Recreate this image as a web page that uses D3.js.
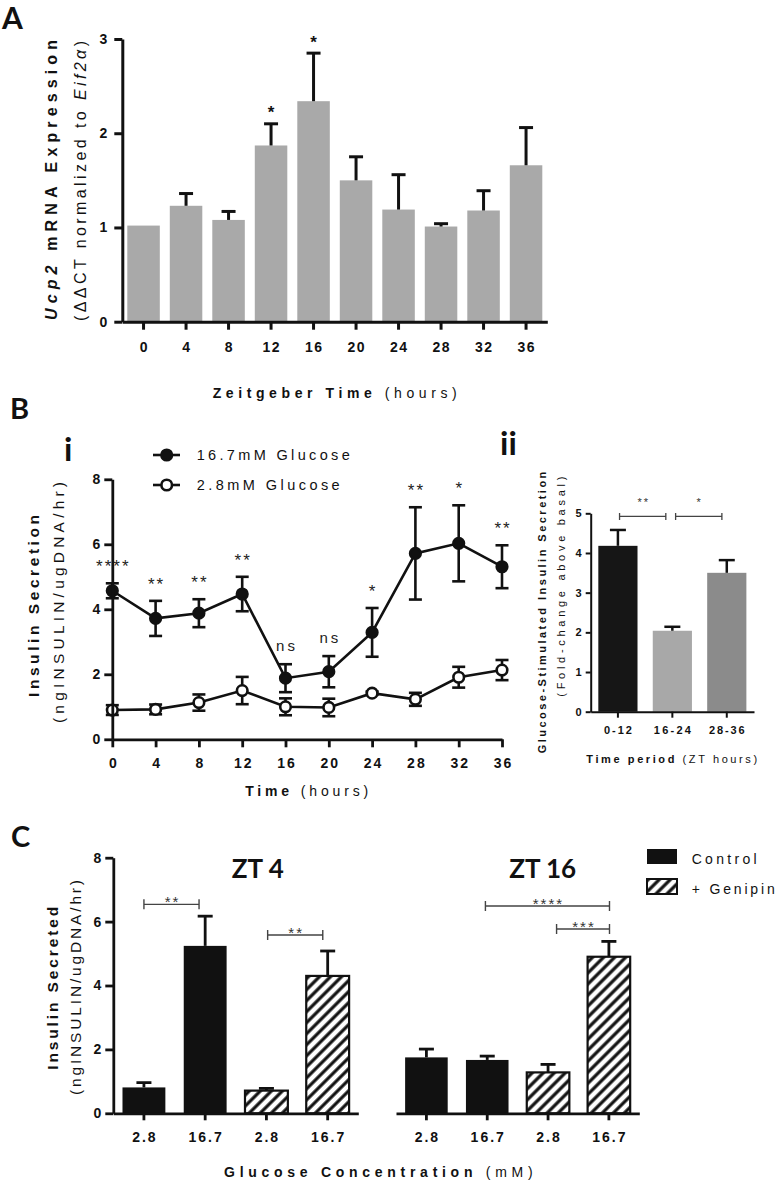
<!DOCTYPE html>
<html><head><meta charset="utf-8">
<script src="https://cdn.jsdelivr.net/npm/d3@7"></script>
<style>body{margin:0;background:#fff} svg{display:block}</style>
</head><body><svg id="c" width="778" height="1189"></svg>
<script>
// ---------- Panel A data ----------
const aTimes = ["0","4","8","12","16","20","24","28","32","36"];
const aMean  = [1.02,1.23,1.08,1.87,2.34,1.50,1.19,1.01,1.18,1.66];
const aErr   = [0,0.13,0.09,0.23,0.51,0.25,0.37,0.03,0.21,0.40];
const aSig   = ["","","","*","*","","","","",""];
const aYTicks = [0,1,2,3];

// ---------- Panel B i data ----------
const bTimes   = [0,4,8,12,16,20,24,28,32,36];
const bHigh    = [4.57,3.72,3.88,4.47,1.88,2.08,3.29,5.72,6.03,5.31];
const bHighErr = [0.23,0.54,0.43,0.53,0.43,0.48,0.75,1.42,1.17,0.66];
const bLow     = [0.90,0.92,1.13,1.50,1.00,0.98,1.42,1.23,1.91,2.13];
const bLowErr  = [0.15,0.15,0.25,0.42,0.26,0.27,0.05,0.20,0.32,0.31];
const bSig     = ["****","**","**","**","ns","ns","*","**","*","**"];
const bYTicks  = [0,2,4,6,8];
const bXTicks  = [0,4,8,12,16,20,24,28,32,36];
const bSeriesNames = ["16.7mM Glucose","2.8mM Glucose"];

// ---------- Panel B ii data ----------
const periods  = ["0-12","16-24","28-36"];
const gsisMean = [4.18,2.04,3.50];
const gsisErr  = [0.40,0.10,0.32];
const gsisYTicks = [0,1,2,3,4,5];
const gsisBrackets = [[0.03,0.88,"**",4.92],[1.06,1.91,"*",4.92]];

// ---------- Panel C data ----------
const cConc   = ["2.8","16.7","2.8","16.7"];
const cTreat  = ["Control","Control","+ Genipin","+ Genipin"];
const zt4Mean = [0.81,5.24,0.71,4.30];
const zt4Err  = [0.15,0.93,0.07,0.78];
const zt16Mean= [1.75,1.67,1.28,4.90];
const zt16Err = [0.26,0.12,0.25,0.48];
const zt4Brackets  = [[0,0.9,"**",6.54],[2.02,2.92,"**",5.58]];
const zt16Brackets = [[0.97,3.01,"****",6.49],[2.14,3.01,"***",5.77]];
const cYTicks = [0,2,4,6,8];
const cLegend = ["Control","+ Genipin"];

// ---------- styles ----------
const F = "'Liberation Sans', Arial, sans-serif";
const LATO = "Lato, 'Open Sans', sans-serif";
const INK = "#111";
const gsisColors = ["#161616","#a8a8a8","#8b8b8b"];
const intFmt = d3.format("d");

const svg = d3.select("#c");

function txt(parent, x, y, parts, o = {}) {
  const anchor = o.anchor || "middle";
  const t = parent.append("text")
    .attr("transform", `translate(${x},${y})` + (o.rot ? ` rotate(${o.rot})` : ""))
    .attr("text-anchor", anchor)
    .style("font-family", o.family || F)
    .style("font-size", (o.size || 14) + "px")
    .style("font-weight", o.weight || "normal")
    .style("fill", o.fill || INK);
  (typeof parts === "string" ? [[parts, {}]] : parts).forEach(([s, st]) => {
    const ts = t.append("tspan").text(s);
    if (st.w) ts.style("font-weight", st.w);
    if (st.i) ts.style("font-style", "italic");
  });
  let ls = 0;
  if (o.span) {
    const n = t.text().length;
    const w = t.node().getComputedTextLength();
    ls = (o.span - w) / Math.max(1, n - 1);
  } else if (o.ls) ls = o.ls;
  if (ls) {
    t.style("letter-spacing", ls + "px");
    if (anchor === "middle") t.attr("dx", ls / 2);
    if (anchor === "end") t.attr("dx", ls);
  }
  return t;
}

function styleAxis(g, sw, size, ls, weight) {
  g.select(".domain").attr("stroke", INK).attr("stroke-width", sw);
  g.selectAll(".tick line").attr("stroke", INK).attr("stroke-width", sw);
  g.selectAll(".tick text").style("font-family", F).style("font-size", size + "px")
    .style("font-weight", weight || "bold").style("fill", INK)
    .style("letter-spacing", (ls || 0) + "px");
  g.attr("font-family", null).attr("font-size", null);
}

function draw() {
  const defs = svg.append("defs");
  const pat = defs.append("pattern").attr("id", "hatch").attr("patternUnits", "userSpaceOnUse")
    .attr("width", 7.8).attr("height", 7.8).attr("patternTransform", "rotate(45)");
  pat.append("rect").attr("width", 7.8).attr("height", 7.8).attr("fill", "#fff");
  pat.append("line").attr("x1", 3.9).attr("y1", -1).attr("x2", 3.9).attr("y2", 9)
    .attr("stroke", INK).attr("stroke-width", 3.2);

  // ================= Panel A =================
  const gA = svg.append("g");
  const ax = d3.scaleBand().domain(aTimes).range([122.3, 547.3]).paddingInner(0.235).paddingOuter(0.1175);
  const ay = d3.scaleLinear().domain([0, 3]).range([321.7, 39]);
  const acx = i => ax(aTimes[i]) + ax.bandwidth() / 2;

  gA.selectAll("rect.bar").data(aMean).join("rect").attr("class", "bar")
    .attr("x", (d, i) => ax(aTimes[i])).attr("y", d => ay(d))
    .attr("width", ax.bandwidth()).attr("height", d => ay(0) - ay(d))
    .attr("fill", "#a9a9a9");
  const aE = gA.selectAll("g.err").data(aMean.map((m, i) => ({m, e: aErr[i], i})).filter(d => d.e > 0))
    .join("g").attr("class", "err");
  aE.append("line").attr("x1", d => acx(d.i)).attr("x2", d => acx(d.i))
    .attr("y1", d => ay(d.m)).attr("y2", d => ay(d.m + d.e)).attr("stroke", INK).attr("stroke-width", 3);
  aE.append("line").attr("x1", d => acx(d.i) - 7).attr("x2", d => acx(d.i) + 7)
    .attr("y1", d => ay(d.m + d.e)).attr("y2", d => ay(d.m + d.e)).attr("stroke", INK).attr("stroke-width", 3);
  aSig.forEach((s, i) => { if (s) txt(gA, acx(i), ay(aMean[i] + aErr[i]) - 5.5, s, {size: 17, weight: "bold"}); });

  const aYAxis = gA.append("g").attr("transform", "translate(122.3,0)")
    .call(d3.axisLeft(ay).tickValues(aYTicks).tickFormat(intFmt).tickSize(8).tickPadding(7).tickSizeOuter(0));
  styleAxis(aYAxis, 3, 14);
  const aXAxis = gA.append("g").attr("transform", `translate(0,${ay(0)})`)
    .call(d3.axisBottom(ax).tickSize(8).tickSizeOuter(0));
  styleAxis(aXAxis, 3, 14, 1.5);
  aXAxis.selectAll(".tick text").attr("y", 30.3).attr("dy", 0).attr("dx", 0.75);

  txt(gA, 2, 29, "A", {anchor: "start", family: LATO, size: 30, weight: "bold"});
  txt(gA, 57, 180, [["Ucp2", {i: 1}], [" mRNA Expression", {}]], {rot: -90, size: 16, weight: "bold", span: 280});
  txt(gA, 86, 181, [["(ΔΔCT normalized to ", {}], ["Eif2α", {i: 1}], [")", {}]], {rot: -90, size: 16, span: 280});
  txt(gA, 334.7, 398.3, [["Zeitgeber Time", {w: "bold"}], [" (hours)", {}]], {size: 14, span: 244});

  // ================= Panel B i =================
  const gB = svg.append("g");
  const bx = d3.scaleLinear().domain([0, 36]).range([112.3, 502]);
  const by = d3.scaleLinear().domain([0, 8]).range([739.3, 479.3]);

  const series = [
    {v: bHigh, e: bHighErr, fill: INK},
    {v: bLow, e: bLowErr, fill: "#fff"}
  ];
  series.forEach(s => {
    const eg = gB.append("g");
    s.v.forEach((v, i) => {
      const x = bx(bTimes[i]);
      eg.append("line").attr("x1", x).attr("x2", x).attr("y1", by(v - s.e[i])).attr("y2", by(v + s.e[i]))
        .attr("stroke", INK).attr("stroke-width", 2.6);
      [v - s.e[i], v + s.e[i]].forEach(yy => eg.append("line").attr("x1", x - 6.5).attr("x2", x + 6.5)
        .attr("y1", by(yy)).attr("y2", by(yy)).attr("stroke", INK).attr("stroke-width", 2.6));
    });
  });
  series.forEach(s => {
    gB.append("path").datum(s.v).attr("fill", "none").attr("stroke", INK).attr("stroke-width", 2.6)
      .attr("d", d3.line().x((d, i) => bx(bTimes[i])).y(d => by(d)));
  });
  series.forEach(s => {
    gB.selectAll(null).data(s.v).join("circle").attr("cx", (d, i) => bx(bTimes[i])).attr("cy", d => by(d))
      .attr("r", 5.3).attr("fill", s.fill).attr("stroke", INK).attr("stroke-width", 2.6);
  });
  bSig.forEach((s, i) => {
    const star = s.includes("*");
    txt(gB, bx(bTimes[i]), by(bHigh[i] + bHighErr[i]) - (star ? 11 : 13.5), s,
      {size: star ? 17 : 15, fill: "#222", ls: star ? 2 : 3});
  });

  const bYAxis = gB.append("g").attr("transform", `translate(${bx(0)},0)`)
    .call(d3.axisLeft(by).tickValues(bYTicks).tickFormat(intFmt).tickSize(8).tickPadding(4).tickSizeOuter(0));
  styleAxis(bYAxis, 2.8, 14);
  const bXAxis = gB.append("g").attr("transform", `translate(0,${by(0)})`)
    .call(d3.axisBottom(bx).tickValues(bXTicks).tickFormat(intFmt).tickSize(8).tickSizeOuter(0));
  styleAxis(bXAxis, 2.8, 14, 2);
  bXAxis.selectAll(".tick text").attr("y", 28.7).attr("dy", 0).attr("dx", 1);

  // legend
  const legY = [455, 485];
  series.forEach((s, k) => {
    gB.append("line").attr("x1", 153).attr("x2", 180).attr("y1", legY[k]).attr("y2", legY[k])
      .attr("stroke", INK).attr("stroke-width", 2.6);
    gB.append("circle").attr("cx", 166.7).attr("cy", legY[k]).attr("r", 5.3).attr("fill", s.fill)
      .attr("stroke", INK).attr("stroke-width", 2.6);
    txt(gB, 196.7, legY[k] + 5.3, bSeriesNames[k], {anchor: "start", size: 14.5, span: k === 0 ? 153 : 143});
  });

  txt(gB, 10, 419, "B", {anchor: "start", family: LATO, size: 29, weight: "bold"});
  txt(gB, 64, 461, "i", {anchor: "start", family: LATO, size: 33, weight: "bold"});
  txt(gB, 39, 606, "Insulin Secretion", {rot: -90, size: 15.5, weight: "bold", span: 182});
  txt(gB, 63.5, 602.5, "(ngINSULIN/ugDNA/hr)", {rot: -90, size: 15.5, span: 241});
  txt(gB, 306.7, 796, [["Time", {w: "bold"}], ["  (hours)", {}]], {size: 14, span: 127});

  // ================= Panel B ii =================
  const gC = svg.append("g");
  const px = d3.scaleBand().domain(periods).range([590.7, 754]).paddingInner(0.28).paddingOuter(0.14);
  const py = d3.scaleLinear().domain([0, 5]).range([711.7, 513.3]);
  const pcx = i => px(periods[i]) + px.bandwidth() / 2;
  gC.selectAll("rect").data(gsisMean).join("rect")
    .attr("x", (d, i) => px(periods[i])).attr("y", d => py(d)).attr("width", px.bandwidth())
    .attr("height", d => py(0) - py(d)).attr("fill", (d, i) => gsisColors[i]);
  gsisMean.forEach((m, i) => {
    gC.append("line").attr("x1", pcx(i)).attr("x2", pcx(i)).attr("y1", py(m)).attr("y2", py(m + gsisErr[i]))
      .attr("stroke", INK).attr("stroke-width", 2.5);
    gC.append("line").attr("x1", pcx(i) - 8).attr("x2", pcx(i) + 8).attr("y1", py(m + gsisErr[i]))
      .attr("y2", py(m + gsisErr[i])).attr("stroke", INK).attr("stroke-width", 2.5);
  });
  const stepP = px.step();
  gsisBrackets.forEach(([a, b, s, v]) => {
    const x1 = pcx(0) + a * stepP, x2 = pcx(0) + b * stepP, y = py(v);
    gC.append("path").attr("d", `M${x1},${y - 3.5}V${y + 3.5}M${x1},${y}H${x2}M${x2},${y - 3.5}V${y + 3.5}`)
      .attr("stroke", "#444").attr("stroke-width", 1.3).attr("fill", "none");
    txt(gC, (x1 + x2) / 2, y - 10, s, {size: 11, fill: "#333", ls: 2});
  });
  const pYAxis = gC.append("g").attr("transform", "translate(590.7,0)")
    .call(d3.axisLeft(py).tickValues(gsisYTicks).tickFormat(intFmt).tickSize(5).tickPadding(4).tickSizeOuter(0));
  styleAxis(pYAxis, 2, 11);
  const pXAxis = gC.append("g").attr("transform", `translate(0,${py(0)})`)
    .call(d3.axisBottom(px).tickSize(6).tickSizeOuter(0));
  styleAxis(pXAxis, 2, 11);
  pXAxis.selectAll(".tick").each(function(d, i) {
    d3.select(this).select("text").remove();
    txt(d3.select(this), 0, 22.5, d, {size: 11, weight: "bold", span: [28, 37, 35.7][i]});
  });
  txt(gC, 500, 455, "ii", {anchor: "start", family: LATO, size: 33, weight: "bold"});
  txt(gC, 546, 612.5, "Glucose-Stimulated Insulin Secretion", {rot: -90, size: 11, weight: "bold", span: 281.6});
  txt(gC, 565, 586.7, "(Fold-change above basal)", {rot: -90, size: 11, span: 220});
  txt(gC, 671.7, 762.5, [["Time period", {w: "bold"}], ["  (ZT hours)", {}]], {size: 11, span: 173.3});

  // ================= Panel C =================
  const gD = svg.append("g");
  const cy = d3.scaleLinear().domain([0, 8]).range([1113.3, 857.7]);
  const idx = d3.range(cConc.length);
  const panels = [
    {mean: zt4Mean, err: zt4Err, br: zt4Brackets, range: [113.3, 358.3], title: "ZT 4", yAxis: true},
    {mean: zt16Mean, err: zt16Err, br: zt16Brackets, range: [396, 639.3], title: "ZT 16", yAxis: false}
  ];
  panels.forEach(p => {
    const x = d3.scaleBand().domain(idx).range(p.range).paddingInner(0.3).paddingOuter(0.15);
    const cxi = i => x(i) + x.bandwidth() / 2;
    gD.selectAll(null).data(p.mean).join("rect")
      .attr("x", (d, i) => x(i)).attr("y", d => cy(d)).attr("width", x.bandwidth())
      .attr("height", d => cy(0) - cy(d))
      .attr("fill", (d, i) => cTreat[i] === cLegend[0] ? INK : "url(#hatch)")
      .attr("stroke", INK).attr("stroke-width", (d, i) => cTreat[i] === cLegend[0] ? 0 : 2.2);
    p.mean.forEach((m, i) => {
      gD.append("line").attr("x1", cxi(i)).attr("x2", cxi(i)).attr("y1", cy(m)).attr("y2", cy(m + p.err[i]))
        .attr("stroke", INK).attr("stroke-width", 2.8);
      gD.append("line").attr("x1", cxi(i) - 7.5).attr("x2", cxi(i) + 7.5).attr("y1", cy(m + p.err[i]))
        .attr("y2", cy(m + p.err[i])).attr("stroke", INK).attr("stroke-width", 2.8);
    });
    p.br.forEach(([a, b, s, v]) => {
      const x1 = cxi(0) + a * x.step(), x2 = cxi(0) + b * x.step(), y = cy(v);
      gD.append("path").attr("d", `M${x1},${y - 5}V${y + 5}M${x1},${y}H${x2}M${x2},${y - 5}V${y + 5}`)
        .attr("stroke", "#444").attr("stroke-width", 1.4).attr("fill", "none");
      txt(gD, (x1 + x2) / 2, y + 3, s, {size: 15, fill: "#333", ls: 2});
    });
    const xa = gD.append("g").attr("transform", `translate(0,${cy(0)})`)
      .call(d3.axisBottom(x).tickSize(7).tickSizeOuter(0).tickFormat(i => cConc[i]));
    styleAxis(xa, 2.8, 14, 2);
    xa.selectAll(".tick text").attr("y", 29.2).attr("dy", 0).attr("dx", 1);
    if (p.yAxis) {
      const ya = gD.append("g").attr("transform", `translate(${p.range[0]},0)`)
        .call(d3.axisLeft(cy).tickValues(cYTicks).tickFormat(intFmt).tickSize(8).tickPadding(4).tickSizeOuter(0));
      styleAxis(ya, 2.8, 14);
    }
    txt(gD, (p.range[0] + p.range[1]) / 2 + (p.yAxis ? 22 : 25), 878.3, p.title, {family: LATO, size: 26, weight: "bold"});
  });
  // legend
  const legTop = [849, 879];
  cLegend.forEach((name, k) => {
    gD.append("rect").attr("x", 647).attr("y", legTop[k]).attr("width", 30).attr("height", 15)
      .attr("fill", k === 0 ? INK : "url(#hatch)").attr("stroke", INK).attr("stroke-width", k === 0 ? 0 : 2);
    txt(gD, 691.7, legTop[k] + 14.5, name, {anchor: "start", size: 14, span: k === 0 ? 65 : 83});
  });
  txt(gD, 11, 847, "C", {anchor: "start", family: LATO, size: 29, weight: "bold"});
  txt(gD, 58, 988.3, "Insulin Secreted", {rot: -90, size: 15.5, weight: "bold", span: 163});
  txt(gD, 81, 987.5, "(ngINSULIN/ugDNA/hr)", {rot: -90, size: 15.5, span: 215});
  txt(gD, 378.3, 1176.7, [["Glucose Concentration", {w: "bold"}], ["  (mM)", {}]], {size: 14, span: 313.3});
}

document.fonts.ready.then(draw);
</script>
</body></html>
